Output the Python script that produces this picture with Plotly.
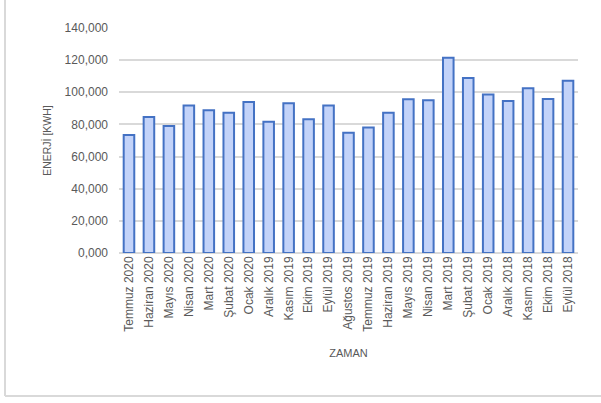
import plotly.graph_objects as go

months = ["Temmuz 2020", "Haziran 2020", "Mayıs 2020", "Nisan 2020", "Mart 2020",
          "Şubat 2020", "Ocak 2020", "Aralık 2019", "Kasım 2019", "Ekim 2019",
          "Eylül 2019", "Ağustos 2019", "Temmuz 2019", "Haziran 2019", "Mayıs 2019",
          "Nisan 2019", "Mart 2019", "Şubat 2019", "Ocak 2019", "Aralık 2018",
          "Kasım 2018", "Ekim 2018", "Eylül 2018"]
energy = [73400, 84700, 79000, 91800, 88900, 87300, 94000, 81700, 93200, 83300,
          91800, 74800, 78100, 87200, 95700, 95000, 121500, 108900, 98600, 94600,
          102500, 95900, 107200]
y_ticks = [0, 20000, 40000, 60000, 80000, 100000, 120000, 140000]
y_tick_text = ["0,000", "20,000", "40,000", "60,000", "80,000", "100,000", "120,000", "140,000"]

FONT = "Liberation Sans, Arial, sans-serif"
GRAY = "#595959"

fig = go.Figure()
fig.add_trace(go.Bar(
    x=months, y=energy, width=0.53,
    marker=dict(color="#c3d3f9", line=dict(color="#4472c4", width=2)),
))

fig.update_layout(
    width=601, height=403,
    margin=dict(l=119, r=23, t=28, b=149.5),
    paper_bgcolor="white", plot_bgcolor="white",
    showlegend=False,
    font=dict(family=FONT, color=GRAY, size=12),
    shapes=[
        dict(type="line", xref="paper", yref="paper", x0=-0.2484, x1=-0.2484, y0=1.13, y1=-0.635,
             line=dict(color="#d9d9d9", width=2)),
        dict(type="line", xref="paper", yref="paper", x0=-0.2484, x1=1.06, y0=-0.635, y1=-0.635,
             line=dict(color="#d9d9d9", width=2)),
    ],
)
fig.update_xaxes(
    tickangle=-90, showgrid=False, showline=False, ticks="",
    tickfont=dict(size=12, color=GRAY),
    title=dict(text="ZAMAN", font=dict(size=11, color=GRAY), standoff=18),
)
fig.update_yaxes(
    range=[0, 140000], tickvals=y_ticks, ticktext=y_tick_text,
    showgrid=True, gridcolor="#d9d9d9", gridwidth=1.5,
    zeroline=True, zerolinecolor="#d9d9d9", zerolinewidth=1.5,
    showline=False, ticks="", ticklabelstandoff=10,
    tickfont=dict(size=12, color=GRAY),
    title=dict(text="ENERJİ [KWH]", font=dict(size=10.5, color=GRAY), standoff=10),
)

fig.write_html("out.html")
